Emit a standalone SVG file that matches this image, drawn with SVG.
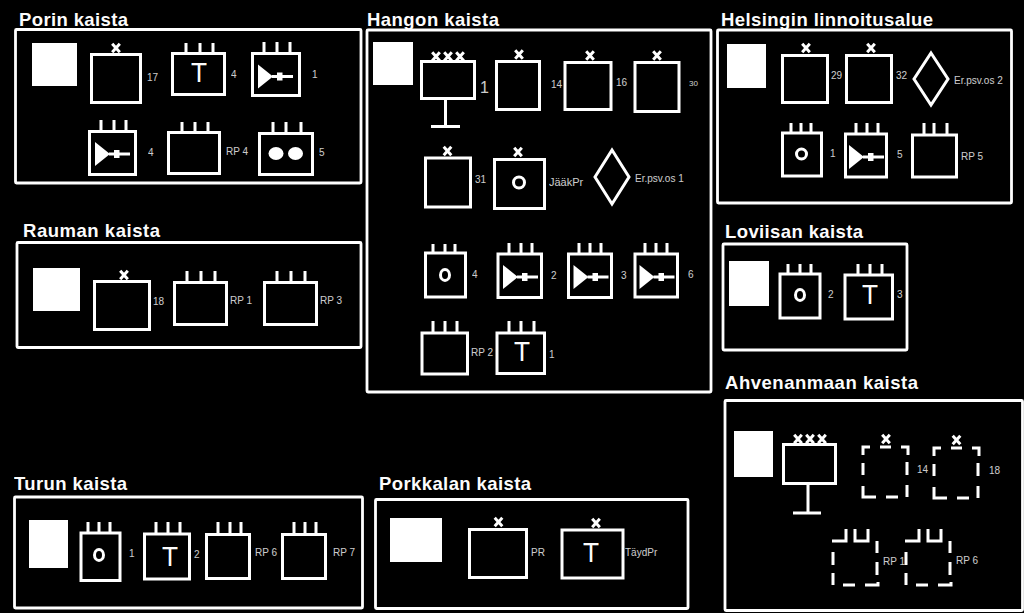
<svg xmlns="http://www.w3.org/2000/svg" width="1024" height="613" viewBox="0 0 1024 613">
<style>
text{font-family:"Liberation Sans",Arial,sans-serif}
.h{fill:#fff;font-size:18.5px;font-weight:bold;opacity:.99}
.l{fill:#fff;font-size:10px;opacity:.8}
.T{fill:#fff;font-size:28px;text-anchor:middle;opacity:.99}
.f{fill:none;stroke:#fff;stroke-width:2.8}
.b{fill:none;stroke:#fff;stroke-width:3}
.w{fill:#fff}
</style>
<defs>
<g id="x"><path d="M-3.800-4.200L3.800 4.200M3.800-4.200L-3.800 4.200" fill="none" stroke="#fff" stroke-width="3"/></g>
<g id="xxx"><use href="#x" x="-12"/><use href="#x"/><use href="#x" x="12"/></g>
<g id="amp"><path d="M-14-12L-14 12L1 0Z" fill="#fff"/><path d="M0 0H21" stroke="#fff" stroke-width="3"/><rect x="5" y="-4" width="5.500" height="8" fill="#fff"/></g>
<g id="dashx"><path d="M0 9V1H7M17 1H28M38 1H45V9M0 17V29M44 16V29M0 40V51H13M23 51H35M44 39V51" fill="none" stroke="#fff" stroke-width="3"/></g>
<g id="dashrp"><path d="M0 12H14V0M23 0V12H36V0M45 12V24M1 23V36M45 33V46M1 44V56M11 56H23M33 56H46V53" fill="none" stroke="#fff" stroke-width="3"/></g>
</defs>
<rect width="1024" height="613" fill="#000"/>
<g id="connectors"></g>

<g id="porin">
<text class="h" x="19" y="26" textLength="109" lengthAdjust="spacing">Porin kaista</text>
<rect class="f" x="15.500" y="29.500" width="345.500" height="153.500" rx="1"/>
<rect class="w" x="32" y="43" width="45" height="43"/>
<g id="porin-17"><rect class="b" x="91.500" y="54.500" width="49" height="48"/><use href="#x" x="116" y="48"/><text class="l" x="147" y="81">17</text></g>
<g id="porin-t4"><rect class="b" x="172.500" y="53.500" width="52" height="41"/><path class="b" d="M186 43V53M200 43V53M213 43V53"/><text class="T" x="199" y="82" textLength="16" lengthAdjust="spacingAndGlyphs">T</text><text class="l" x="231" y="78">4</text></g>
<g id="porin-a1"><rect class="b" x="252.500" y="53.500" width="47" height="42"/><path class="b" d="M264 42V53M277 42V53M290 42V53"/><use href="#amp" x="272" y="76.500"/><text class="l" x="312" y="78">1</text></g>
<g id="porin-a4"><rect class="b" x="89.500" y="131.500" width="46" height="43"/><path class="b" d="M101 120V131M114 120V131M126 120V131"/><use href="#amp" x="109" y="154"/><text class="l" x="148" y="156">4</text></g>
<g id="porin-rp4"><rect class="b" x="168.500" y="132.500" width="51" height="41"/><path class="b" d="M182 122V132M195 122V132M208 122V132"/><text class="l" x="226" y="155">RP 4</text></g>
<g id="porin-5"><rect class="b" x="259.500" y="133.500" width="53" height="41"/><path class="b" d="M273 122V133M286 122V133M301 122V133"/><ellipse class="w" cx="276" cy="153.500" rx="7.500" ry="6.500"/><ellipse class="w" cx="295.500" cy="153.500" rx="7.500" ry="6.500"/><text class="l" x="319" y="156">5</text></g>
</g>

<g id="rauman">
<text class="h" x="23" y="237" textLength="137" lengthAdjust="spacing">Rauman kaista</text>
<rect class="f" x="17" y="242.500" width="344" height="105" rx="1"/>
<rect class="w" x="33" y="268" width="47" height="43"/>
<g id="rauman-18"><rect class="b" x="94.500" y="281.500" width="55" height="48"/><use href="#x" x="124" y="275"/><text class="l" x="153" y="305">18</text></g>
<g id="rauman-rp1"><rect class="b" x="174.500" y="282.500" width="52" height="42"/><path class="b" d="M187 271V282M201 271V282M215 271V282"/><text class="l" x="230" y="304">RP 1</text></g>
<g id="rauman-rp3"><rect class="b" x="264.500" y="282.500" width="52" height="42"/><path class="b" d="M277 271V282M291 271V282M305 271V282"/><text class="l" x="320" y="304">RP 3</text></g>
</g>

<g id="hangon">
<text class="h" x="367" y="26" textLength="132" lengthAdjust="spacing">Hangon kaista</text>
<rect class="f" x="367" y="30" width="344" height="362" rx="1"/>
<rect class="w" x="373" y="42" width="40" height="43"/>
<g id="hangon-1"><rect class="b" x="421.500" y="61.500" width="53" height="37"/><path class="b" d="M445.500 98V126M431 126.500H460"/><use href="#xxx" x="448" y="56.500"/><text class="l" x="480" y="93" style="font-size:16px">1</text></g>
<g id="hangon-14"><rect class="b" x="496.500" y="61.500" width="43" height="48"/><use href="#x" x="519" y="54.500"/><text class="l" x="551" y="88">14</text></g>
<g id="hangon-16"><rect class="b" x="565" y="62.500" width="46" height="47"/><use href="#x" x="590" y="55.500"/><text class="l" x="616" y="86">16</text></g>
<g id="hangon-30"><rect class="b" x="635" y="62.500" width="44" height="49"/><use href="#x" x="657" y="55.500"/><text class="l" x="689" y="86" style="font-size:8px">30</text></g>
<g id="hangon-31"><rect class="b" x="425.500" y="158" width="45" height="49"/><use href="#x" x="447.500" y="151"/><text class="l" x="475" y="183">31</text></g>
<g id="hangon-jaak"><rect class="b" x="494.500" y="159.500" width="50" height="49"/><use href="#x" x="518" y="152"/><circle class="b" cx="519" cy="182.500" r="5.500"/><text class="l" x="549" y="186" style="font-size:11px">JääkPr</text></g>
<g id="hangon-er1"><path class="b" d="M612 150L629 177L612 204L595 177Z"/><text class="l" x="635" y="182">Er.psv.os 1</text></g>
<g id="hangon-o4"><rect class="b" x="425.500" y="253" width="40" height="44"/><path class="b" d="M433 244V253M445 244V253M455 244V253"/><ellipse class="b" cx="445" cy="275" rx="4.500" ry="5.500"/><text class="l" x="472" y="278">4</text></g>
<g id="hangon-a2"><rect class="b" x="498" y="254" width="43.500" height="43.500"/><path class="b" d="M509 243V254M521 243V254M532 243V254"/><use href="#amp" x="517" y="277"/><text class="l" x="551" y="279">2</text></g>
<g id="hangon-a3"><rect class="b" x="568.500" y="254" width="43" height="43.500"/><path class="b" d="M579 243V254M590 243V254M601 243V254"/><use href="#amp" x="587.500" y="277"/><text class="l" x="621" y="279">3</text></g>
<g id="hangon-a6"><rect class="b" x="635" y="254" width="42.500" height="43"/><path class="b" d="M645 243V254M656 243V254M667 243V254"/><use href="#amp" x="653.500" y="277"/><text class="l" x="688" y="278">6</text></g>
<g id="hangon-rp2"><rect class="b" x="422" y="333" width="45.500" height="41"/><path class="b" d="M433 321V333M445 321V333M457 321V333"/><text class="l" x="471" y="356">RP 2</text></g>
<g id="hangon-t1"><rect class="b" x="497" y="333" width="47.500" height="40.500"/><path class="b" d="M509 321V333M521 321V333M534 321V333"/><text class="T" x="522" y="361" textLength="16" lengthAdjust="spacingAndGlyphs">T</text><text class="l" x="549" y="358">1</text></g>
</g>

<g id="helsingin">
<text class="h" x="721" y="26" textLength="212" lengthAdjust="spacing">Helsingin linnoitusalue</text>
<rect class="f" x="717.500" y="30" width="294" height="173" rx="1"/>
<rect class="w" x="727" y="44" width="39" height="44"/>
<g id="hel-29"><rect class="b" x="782.500" y="55.500" width="45" height="47"/><use href="#x" x="806" y="48"/><text class="l" x="831" y="79">29</text></g>
<g id="hel-32"><rect class="b" x="846.500" y="55.500" width="45" height="47"/><use href="#x" x="871" y="48"/><text class="l" x="896" y="79">32</text></g>
<g id="hel-er2"><path class="b" d="M931 53L948 79L931 105L914 79Z"/><text class="l" x="954" y="84">Er.psv.os 2</text></g>
<g id="hel-o1"><rect class="b" x="782.500" y="133" width="39" height="43"/><path class="b" d="M791 123V133M801 123V133M811 123V133"/><circle class="b" cx="801.500" cy="154" r="5"/><text class="l" x="830" y="157">1</text></g>
<g id="hel-a5"><rect class="b" x="845.500" y="134" width="41" height="43"/><path class="b" d="M856 123V134M867 123V134M878 123V134"/><use href="#amp" x="863" y="157"/><text class="l" x="897" y="158">5</text></g>
<g id="hel-rp5"><rect class="b" x="912.500" y="135" width="44" height="42"/><path class="b" d="M924 123V135M934 123V135M947 123V135"/><text class="l" x="961" y="160">RP 5</text></g>
</g>

<g id="loviisan">
<text class="h" x="725" y="238" textLength="138" lengthAdjust="spacing">Loviisan kaista</text>
<rect class="f" x="723" y="244" width="184" height="106" rx="1"/>
<rect class="w" x="729" y="261" width="40" height="45"/>
<g id="lov-o2"><rect class="b" x="780" y="274" width="40" height="44"/><path class="b" d="M788 264V274M800 264V274M811 264V274"/><ellipse class="b" cx="800" cy="295" rx="4.500" ry="5.500"/><text class="l" x="828" y="298">2</text></g>
<g id="lov-t3"><rect class="b" x="845" y="275" width="47.500" height="44"/><path class="b" d="M858 264V275M870 264V275M882 264V275"/><text class="T" x="870" y="304" textLength="16" lengthAdjust="spacingAndGlyphs">T</text><text class="l" x="897" y="298">3</text></g>
</g>

<g id="ahvenanmaan">
<text class="h" x="725" y="389" textLength="193" lengthAdjust="spacing">Ahvenanmaan kaista</text>
<rect class="f" x="725" y="400.500" width="297.500" height="210" rx="1"/>
<rect class="w" x="734" y="431" width="39" height="46"/>
<g id="ahv-board"><rect class="b" x="783.500" y="444.500" width="52" height="39"/><path class="b" d="M808 483V513M793 513H821"/><use href="#xxx" x="810" y="439"/></g>
<g id="ahv-14"><use href="#dashx" x="863" y="446"/><use href="#x" x="886" y="439"/><text class="l" x="917" y="473">14</text></g>
<g id="ahv-18"><use href="#dashx" x="934" y="447"/><use href="#x" x="956.500" y="440"/><text class="l" x="989" y="474">18</text></g>
<g id="ahv-rp1"><use href="#dashrp" x="832" y="529"/><text class="l" x="883" y="565">RP 1</text></g>
<g id="ahv-rp6"><use href="#dashrp" x="905" y="529"/><text class="l" x="956" y="564">RP 6</text></g>
</g>

<g id="turun">
<text class="h" x="14" y="490" textLength="113" lengthAdjust="spacing">Turun kaista</text>
<rect class="f" x="14.500" y="497" width="348" height="111" rx="1"/>
<rect class="w" x="29" y="520" width="39" height="48"/>
<g id="tur-o1"><rect class="b" x="81" y="533" width="39" height="47.500"/><path class="b" d="M88 522V533M99 522V533M110 522V533"/><ellipse class="b" cx="99" cy="555" rx="4.500" ry="5.500"/><text class="l" x="129" y="557">1</text></g>
<g id="tur-t2"><rect class="b" x="144.500" y="534" width="45" height="45"/><path class="b" d="M156 522V534M168 522V534M180 522V534"/><text class="T" x="170" y="566" textLength="16" lengthAdjust="spacingAndGlyphs">T</text><text class="l" x="194" y="558">2</text></g>
<g id="tur-rp6"><rect class="b" x="206.500" y="534.500" width="43" height="44"/><path class="b" d="M218 522V534M230 522V534M241 522V534"/><text class="l" x="255" y="556">RP 6</text></g>
<g id="tur-rp7"><rect class="b" x="282.500" y="534.500" width="43" height="44"/><path class="b" d="M294 522V534M305 522V534M316 522V534"/><text class="l" x="333" y="556">RP 7</text></g>
</g>

<g id="porkkalan">
<text class="h" x="379" y="490" textLength="152" lengthAdjust="spacing">Porkkalan kaista</text>
<rect class="f" x="375.500" y="499.500" width="312.500" height="109" rx="1"/>
<rect class="w" x="390" y="518" width="52" height="44"/>
<g id="pork-pr"><rect class="b" x="469.500" y="529.500" width="57" height="48"/><use href="#x" x="498.500" y="522"/><text class="l" x="531" y="556">PR</text></g>
<g id="pork-tayd"><rect class="b" x="562" y="530" width="61" height="48"/><use href="#x" x="596" y="523"/><text class="T" x="591" y="562" textLength="16" lengthAdjust="spacingAndGlyphs">T</text><text class="l" x="625" y="556">TäydPr</text></g>
</g>
</svg>
